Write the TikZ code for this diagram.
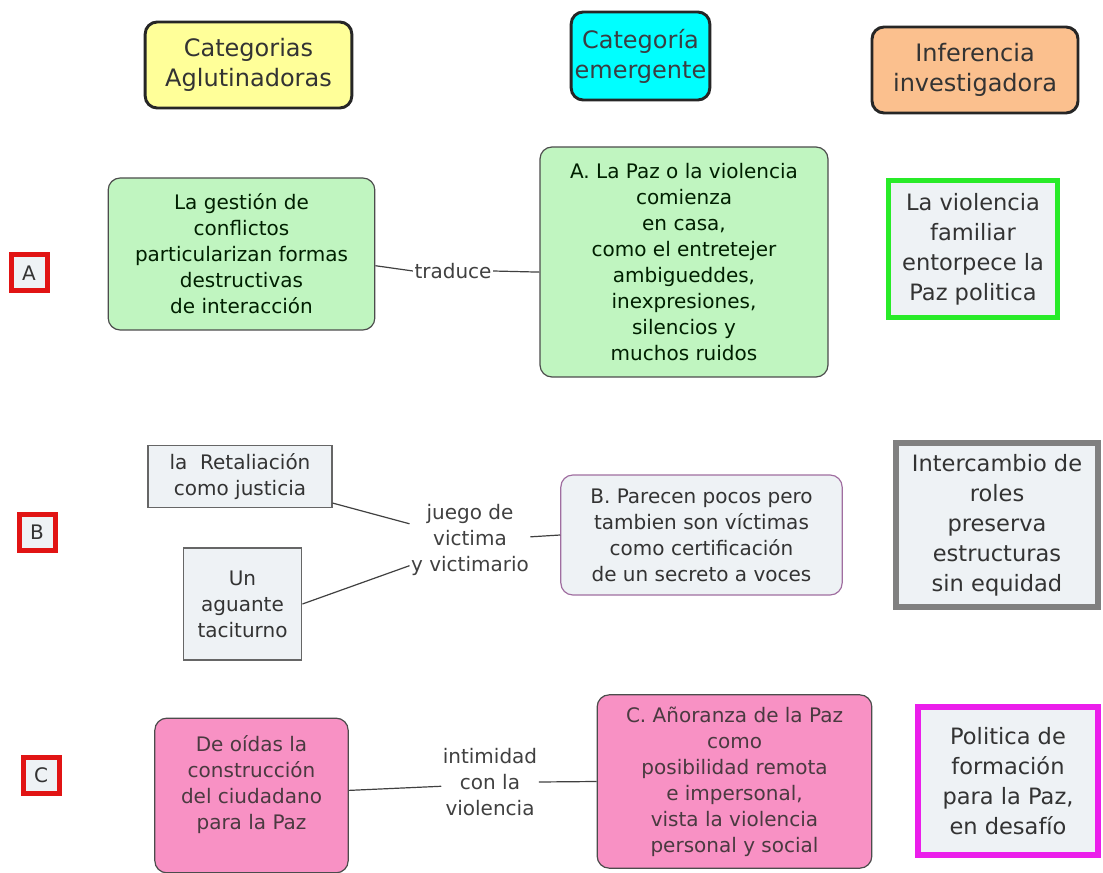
\documentclass[tikz,border=0pt]{standalone}
\usepackage{fontspec}
\setmainfont{DejaVu Sans}
\usepackage{tikz}

\definecolor{amarillo}{RGB}{255,255,153}
\definecolor{celeste}{RGB}{0,255,255}
\definecolor{durazno}{RGB}{251,192,142}
\definecolor{verdeclaro}{RGB}{192,245,192}
\definecolor{verdevivo}{RGB}{40,235,40}
\definecolor{grisfondo}{RGB}{238,242,245}
\definecolor{rosa}{RGB}{248,145,196}
\definecolor{magenta2}{RGB}{235,30,235}
\definecolor{lila}{RGB}{160,110,160}
\definecolor{rojo}{RGB}{225,20,20}

\begin{document}
\begin{tikzpicture}[x=0.75pt,y=-0.75pt,
		texto/.style={font=\fontsize{15}{19.5}\selectfont},
		caja/.style={texto,draw=black!70,line width=0.9pt,rounded corners=9pt,align=center,inner sep=2pt},
		titulo/.style={caja,draw=black!85,line width=2.2pt,font=\fontsize{18}{22.5}\selectfont,text=black!80},
		recuadro/.style={texto,draw=black!60,line width=0.9pt,fill=grisfondo,align=center,text=black!80},
		inferencia/.style={draw,line width=4pt,fill=grisfondo,align=center,font=\fontsize{16.9}{22.5}\selectfont,text=black!80},
		letra/.style={texto,draw=rojo,line width=3.75pt,fill=grisfondo,minimum width=27pt,minimum height=27pt,inner sep=0pt,text=black!80},
		etiqueta/.style={texto,align=center,inner sep=1pt,text=black!75},
		verde/.style={caja,fill=verdeclaro,text=black!70!green!40!black},
		rosado/.style={caja,fill=rosa,text=black!70!magenta!60!black}]
	\useasboundingbox (0,0) rectangle (1103,873);

	% encabezados
	\node[titulo,fill=amarillo,minimum width=155pt,minimum height=64.5pt] (cag) at (248.5,65) {Categorias\\Aglutinadoras};
	\node[titulo,fill=celeste,minimum width=104pt,minimum height=66pt,text=black!70!cyan!50!black] (cem) at (640.5,56) {Categoría\\emergente};
	\node[titulo,fill=durazno,minimum width=154.5pt,minimum height=64.5pt] (inv) at (975,70) {Inferencia\\investigadora};

	\foreach \l/\x/\y in {A/29/273,B/37/532,C/41/775}
		\node[letra] (l\l) at (\x,\y) {\l};

	% fila A
	\node[verde,minimum width=200pt,minimum height=114pt] (gest) at (241.5,254) {La gestión de\\conflictos\\particularizan formas\\destructivas\\de interacción};
	\node[etiqueta] (trad) at (453,271) {traduce};
	\node[verde,minimum width=216pt,minimum height=172.5pt] (paz) at (684,262) {A. La Paz o la violencia\\comienza\\en casa,\\como el entretejer\\ambigueddes,\\inexpresiones,\\silencios y\\muchos ruidos};
	\node[inferencia,draw=verdevivo,minimum width=127pt,minimum height=103pt] (fam) at (973,249) {La violencia\\familiar\\entorpece la\\Paz politica};

	% fila B
	\node[recuadro,minimum width=138pt,minimum height=46pt] (ret) at (240,476.5) {la\ \ Retaliación\\como justicia};
	\node[recuadro,minimum width=89pt,minimum height=84pt] (agu) at (242.5,604) {Un\\aguante\\taciturno};
	\node[etiqueta] (jue) at (470,540) {juego de\\victima\\y victimario};
	\node[caja,draw=lila,fill=grisfondo,text=black!80,minimum width=211pt,minimum height=90pt] (poc) at (701.5,535) {B. Parecen pocos pero\\tambien son víctimas\\como certificación\\de un secreto a voces};
	\node[inferencia,draw=black!50,line width=4.5pt,minimum width=151.5pt,minimum height=123pt] (rol) at (997,525) {Intercambio de\\roles\\preserva\\estructuras\\sin equidad};

	% fila C
	\node[rosado,minimum width=145pt,minimum height=116pt] (oid) at (251.5,795.5) {De oídas la\\construcción\\del ciudadano\\para la Paz\\[0pt]};
	\node[etiqueta] (int) at (490,782) {intimidad\\con la\\violencia};
	\node[rosado,minimum width=206pt,minimum height=130pt] (ano) at (734.5,781.5) {C. Añoranza de la Paz\\como\\posibilidad remota\\e impersonal,\\vista la violencia\\personal y social};
	\node[inferencia,draw=magenta2,line width=4.5pt,minimum width=135pt,minimum height=111pt] (pol) at (1008,781) {Politica de\\formación\\para la Paz,\\en desafío};

	\foreach \a/\b in {gest.-5/trad.west,trad.east/paz.184,ret.-16/jue.165,agu.east/jue.203,jue.3/poc.west,oid.3/int.185,int.east/ano.west}
		\draw[black!75,line width=0.9pt] (\a) -- (\b);
\end{tikzpicture}
\end{document}
